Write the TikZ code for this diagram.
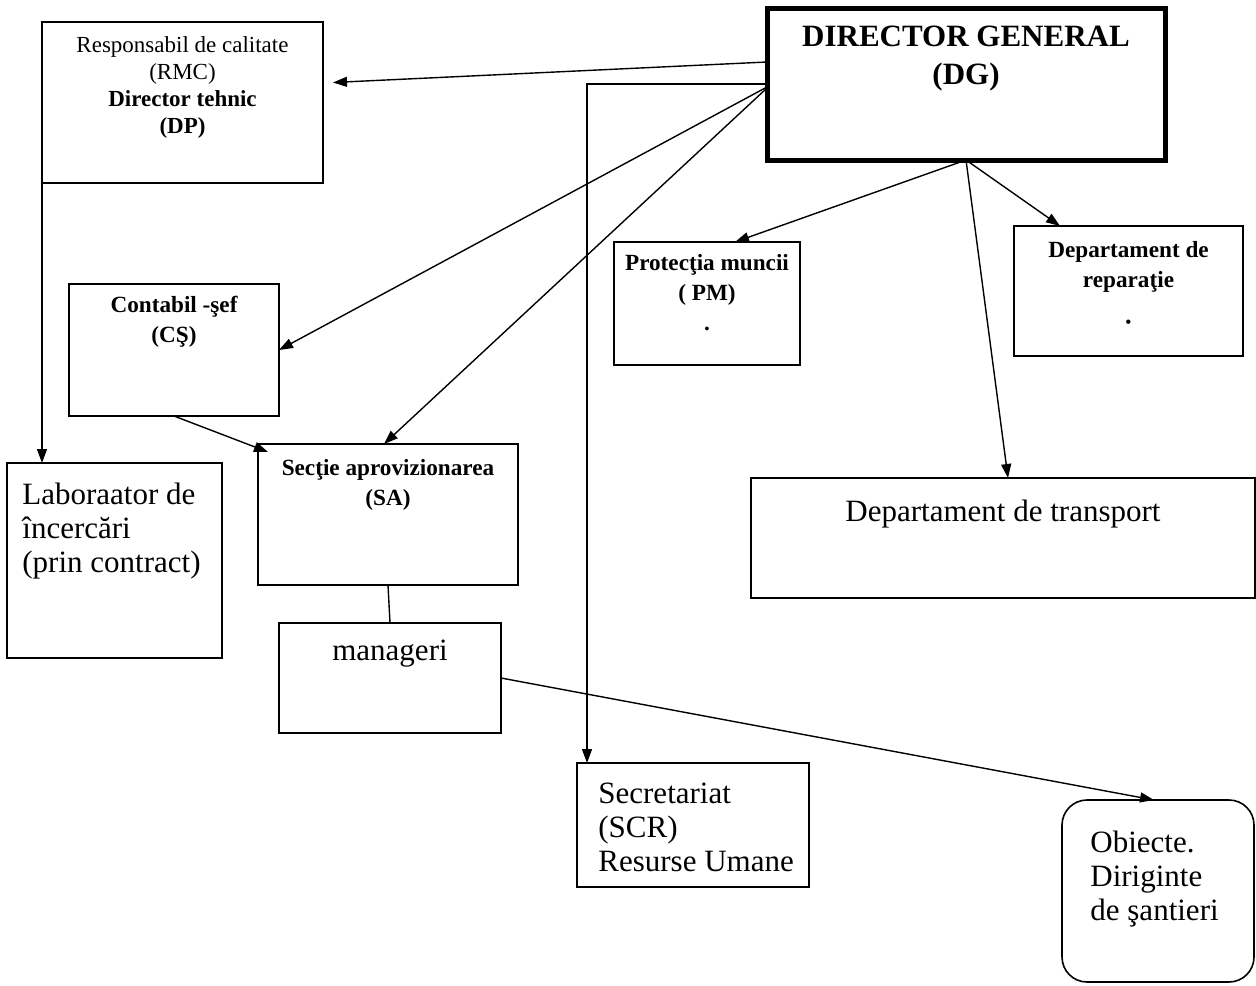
\documentclass[tikz,border=0pt]{standalone}
\usepackage{fontspec}
\setmainfont{Liberation Serif}
\usetikzlibrary{arrows.meta, positioning, calc}

\begin{document}
\begin{tikzpicture}[x=0.5pt, y=-0.5pt]
    % Block style
    \tikzstyle{block} = [rectangle, draw, line width=0.8pt, anchor=north west, inner sep=0pt, outer sep=0pt]
    \tikzstyle{title} = [anchor=north, align=center, inner sep=0pt]
    \tikzstyle{lefttitle} = [align=left, inner sep=0pt]
    \tikzstyle{arrow} = [-{Triangle[length=7pt, width=5pt]}, line width=0.7pt]
    \tikzstyle{smallbold} = [font=\fontsize{11.6}{15}\selectfont\bfseries]
    \tikzstyle{large} = [font=\fontsize{15.5}{17}\selectfont]

    \useasboundingbox (0,0) rectangle (1256,985);

    % Director
    \node[block, line width=2.5pt, minimum width=199pt, minimum height=76pt] (dg) at (767,8) {};
    \node[title, below=9pt of dg.north, font=\fontsize{15.5}{19}\selectfont\bfseries] (dg_txt) {DIRECTOR GENERAL\\(DG)};

    % Quality / technical director
    \node[block, minimum width=140.5pt, minimum height=80.5pt] (rmc) at (42,22) {};
    \node[title, below=7pt of rmc.north, font=\fontsize{11.5}{13.5}\selectfont] (rmc_txt)
        {Responsabil de calitate\\(RMC)\\\textbf{Director tehnic}\\\textbf{(DP)}};

    % Second row
    \node[block, minimum width=105pt, minimum height=66pt] (cs) at (69,284) {};
    \node[title, smallbold, below=6pt of cs.north] (cs_txt) {Contabil -şef\\(CŞ)};

    \node[block, minimum width=93pt, minimum height=61.5pt] (pm) at (614,242) {};
    \node[title, smallbold, below=6pt of pm.north] (pm_txt) {Protecţia muncii\\( PM)\\.};

    \node[block, minimum width=114.5pt, minimum height=65pt] (rep) at (1014,226) {};
    \node[title, smallbold, below=7.5pt of rep.north] (rep_txt)
        {Departament de\\reparaţie\\[5pt]{\fontsize{8}{8}\selectfont\textbullet}};

    % Third row
    \node[block, minimum width=107.5pt, minimum height=97.5pt] (lab) at (7,463) {};
    \node[lefttitle, large, below right=10pt and 7.5pt of lab.north west] (lab_txt)
        {Laboraator de\\încercări\\(prin contract)};

    \node[block, minimum width=130pt, minimum height=70.5pt] (sa) at (258,444) {};
    \node[title, smallbold, below=7.5pt of sa.north] (sa_txt) {Secţie aprovizionarea\\(SA)};

    \node[block, minimum width=252pt, minimum height=60pt] (tr) at (751,478) {};
    \node[title, large, below=11pt of tr.north] (tr_txt) {Departament de transport};

    \node[block, minimum width=111pt, minimum height=55pt] (man) at (279,623) {};
    \node[title, large, below=8.5pt of man.north] (man_txt) {manageri};

    % Bottom row
    \node[block, minimum width=116pt, minimum height=62pt] (scr) at (577,763) {};
    \node[lefttitle, large, below right=10pt and 10.5pt of scr.north west] (scr_txt)
        {Secretariat\\(SCR)\\Resurse Umane};

    \node[block, rounded corners=12.5pt, minimum width=96pt, minimum height=91pt] (obj) at (1062,800) {};
    \node[lefttitle, large, below right=15.5pt and 14pt of obj.north west] (obj_txt)
        {Obiecte.\\Diriginte\\de şantieri};

    % Connections from DG
    \draw[arrow] ([yshift=11pt]dg.west) -- ([xshift=5pt,yshift=10pt]rmc.east);
    \draw[arrow] (dg.west) -| ([xshift=5pt]scr.north west);
    \draw[arrow] ([yshift=-1.5pt]dg.west) -- (cs.east);
    \draw[arrow] ([yshift=-2pt]dg.west) -- ([xshift=-2pt]sa.north);
    \draw[arrow] (dg.south) -- ([xshift=14pt]pm.north);
    \draw[arrow] (dg.south) -- ([xshift=23pt]rep.north west);
    \draw[arrow] (dg.south) -- ([xshift=2.5pt]tr.north);

    % Other links
    \draw[arrow] (rmc.south west) -- ([xshift=17.5pt]lab.north west);
    \draw[arrow] (cs.south) -- ([xshift=5pt,yshift=-4pt]sa.north west);
    \draw[line width=0.7pt] (sa.south) -- (man.north);
    \draw[arrow] (man.east) -- ([xshift=-2pt]obj.north);
\end{tikzpicture}
\end{document}
